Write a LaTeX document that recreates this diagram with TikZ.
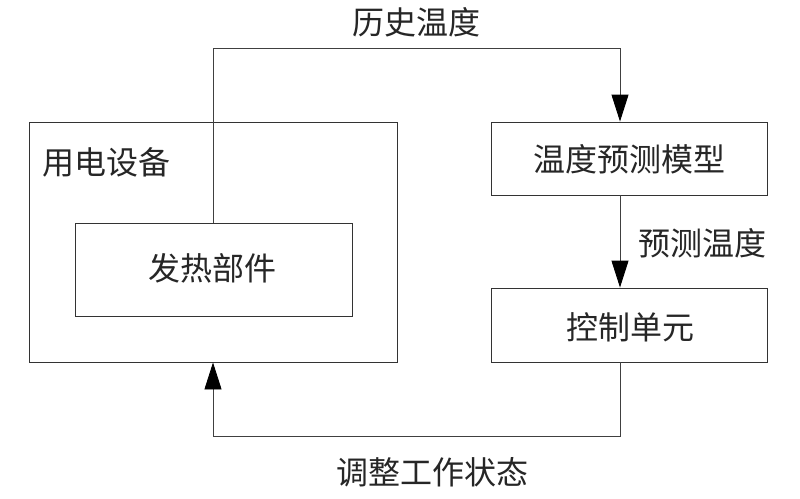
\documentclass[tikz,border=0pt]{standalone}
\usepackage{fontspec}
\newfontfamily\cjk{Noto Sans CJK SC}
\usetikzlibrary{arrows.meta}
\begin{document}
\begin{tikzpicture}[x=1pt,y=-1pt,
  box/.style={draw=black!80,line width=0.9pt,rectangle,inner sep=0pt},
  lbl/.style={font=\cjk\fontsize{32}{34}\selectfont,inner sep=0pt,text=black!85},
  conn/.style={draw=black!75,line width=0.9pt},
  tip/.style={-{Triangle[length=27pt,width=17pt,black]}}]
\useasboundingbox[fill=white] (0,0) rectangle (800,498);
\node[box,minimum width=368pt,minimum height=240pt] (dev) at (213,242) {};
\node[box,minimum width=277pt,minimum height=93pt] (heat) at (213.5,269.5) {};
\node[box,minimum width=276pt,minimum height=73pt] (model) at (629,158.5) {};
\node[box,minimum width=276pt,minimum height=74pt] (ctrl) at (629,325) {};
\node[lbl] (tdev) at (106,162) {用电设备};
\node[lbl] (theat) at (212,268) {发热部件};
\node[lbl] (tmodel) at (629,159) {温度预测模型};
\node[lbl] (tctrl) at (630,327) {控制单元};
\node[lbl] (thist) at (416,22) {历史温度};
\node[lbl] (tpred) at (702,243) {预测温度};
\node[lbl] (tadj) at (432,472) {调整工作状态};
\coordinate (top) at (620,48);
\coordinate (mid) at (620,195);
\coordinate (bot) at (620,436);
\draw[conn,tip] (heat.north) |- (top) -- (top |- model.north);
\draw[conn,tip] (mid) -- (mid |- ctrl.north);
\draw[conn,tip] (ctrl.south -| bot) -- (bot) -| (dev.south);
\end{tikzpicture}
\end{document}
